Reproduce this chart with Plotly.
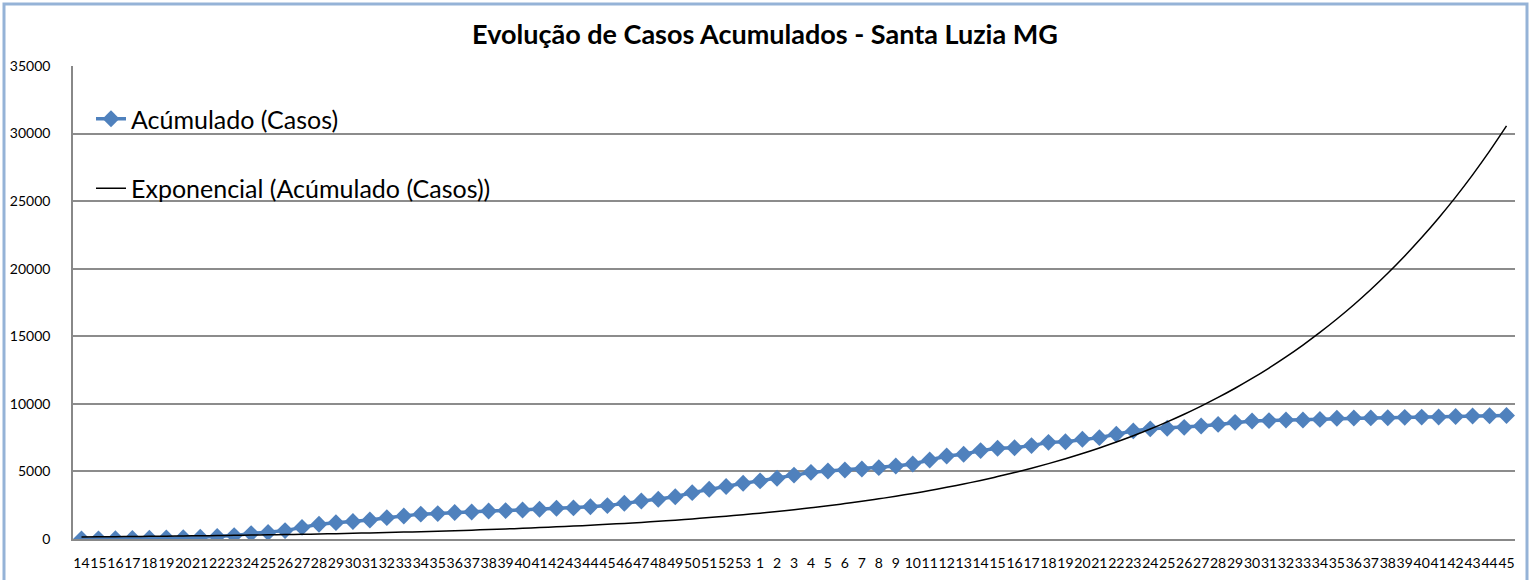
import plotly.graph_objects as go

# Week labels (2020 weeks 14-53, then 2021 weeks 1-45)
week_labels = [str(w) for w in range(14, 54)] + [str(w) for w in range(1, 46)]

# Accumulated cases
acumulado = [3, 10, 20, 35, 50, 70, 100, 130, 180, 250,
             400, 480, 620, 860, 1090, 1210, 1290, 1410, 1580, 1700,
             1840, 1880, 1960, 2000, 2070, 2100, 2150, 2200, 2270, 2300,
             2390, 2470, 2640, 2810, 2940, 3130, 3430, 3680, 3880, 4120,
             4300, 4500, 4730, 4930, 5030, 5110, 5180, 5280, 5400, 5550,
             5850, 6140, 6270, 6540, 6710, 6750, 6910, 7150, 7200, 7380,
             7500, 7750, 8000, 8150, 8200, 8260, 8360, 8480, 8630, 8730,
             8760, 8800, 8810, 8850, 8930, 8950, 8960, 8970, 9000, 9020,
             9030, 9060, 9100, 9120, 9140]

# Exponential trendline
tendencia = [154, 164, 175, 186, 198, 211, 225, 239, 255, 271,
             289, 308, 328, 349, 372, 396, 422, 449, 478, 509,
             543, 578, 615, 655, 698, 743, 792, 843, 898, 956,
             1018, 1085, 1155, 1230, 1310, 1395, 1486, 1582, 1685, 1795,
             1911, 2036, 2168, 2309, 2459, 2619, 2789, 2971, 3164, 3370,
             3589, 3822, 4071, 4335, 4617, 4918, 5237, 5578, 5941, 6327,
             6739, 7177, 7643, 8140, 8670, 9233, 9834, 10473, 11154, 11879,
             12652, 13474, 14351, 15284, 16278, 17336, 18464, 19664, 20943, 22305,
             23755, 25300, 26945, 28697, 30563]

y_ticks = [0, 5000, 10000, 15000, 20000, 25000, 30000, 35000]

x_pos = list(range(len(week_labels)))

FONT = "Lato"

fig = go.Figure()
fig.add_trace(go.Scatter(
    x=x_pos, y=acumulado, mode="lines+markers", name="Acúmulado (Casos)",
    line=dict(color="#4F81BD", width=3.5),
    marker=dict(symbol="diamond", size=13, color="#4F81BD"),
    legendgroup="a",
))
fig.add_trace(go.Scatter(
    x=x_pos, y=tendencia, mode="lines", name="Exponencial (Acúmulado (Casos))",
    line=dict(color="black", width=1.5, shape="spline"),
    legendgroup="b",
))

L, R, T, B = 73, 18, 66, 41
W, H = 1533, 580
pw, ph = W - L - R, H - T - B

def px_x(px):
    return (px - L) / pw

def px_y(py):
    return (H - B - py) / ph

fig.update_layout(
    width=W, height=H,
    margin=dict(l=L, r=R, t=T, b=B, pad=0, autoexpand=False),
    paper_bgcolor="white", plot_bgcolor="white",
    font=dict(family=FONT, color="black"),
    title=dict(text="<b>Evolução de Casos Acumulados - Santa Luzia MG</b>",
               x=0.499, xanchor="center", y=1 - 35 / H, yanchor="middle",
               font=dict(family=FONT, size=27, color="black")),
    showlegend=True,
    legend=dict(x=px_x(91), y=px_y(96), xanchor="left", yanchor="top",
                font=dict(family=FONT, size=25, color="black"),
                bgcolor="rgba(0,0,0,0)", traceorder="grouped",
                tracegroupgap=34, itemwidth=30),
    shapes=[dict(type="rect", xref="paper", yref="paper",
                 x0=px_x(4), x1=px_x(1527), y0=px_y(600), y1=px_y(4),
                 line=dict(color="#95B3D7", width=3), layer="below")],
)
fig.update_xaxes(
    range=[-0.5, len(week_labels) - 0.5], automargin=False,
    tickmode="array", tickvals=x_pos, ticktext=week_labels, tickangle=0,
    tickfont=dict(family=FONT, size=14, color="black"),
    showgrid=False, showline=True, linecolor="#888888", linewidth=1.5,
    ticks="", ticklabelstandoff=10, zeroline=False,
)
fig.update_yaxes(
    range=[0, 35000], automargin=False, tickmode="array", tickvals=y_ticks,
    ticktext=[str(v) for v in y_ticks],
    tickfont=dict(family=FONT, size=14, color="black"),
    showgrid=True, gridcolor="#8C8C8C", gridwidth=1.5,
    showline=True, linecolor="#888888", linewidth=1.5,
    ticks="", ticklabelstandoff=18, zeroline=False,
)

fig.write_html("out.html", config={"displayModeBar": False},
               post_script="document.body.style.margin='0';")
